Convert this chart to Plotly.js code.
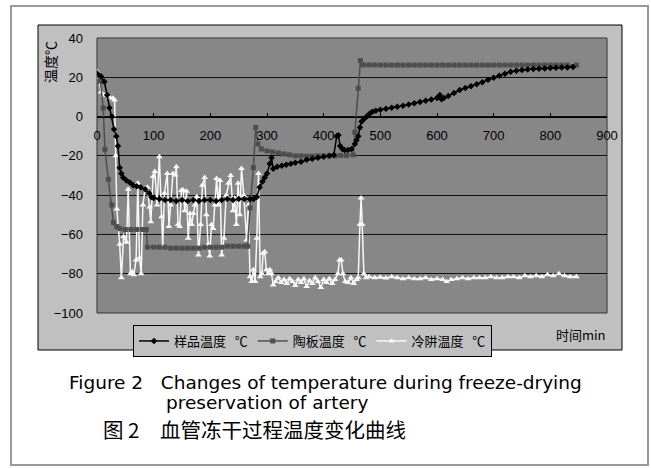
<!DOCTYPE html>
<html>
<head>
<meta charset="utf-8">
<script src="https://cdn.plot.ly/plotly-3.0.1.min.js"></script>
<style>html,body{margin:0;padding:0;background:#fff;}#chart{width:651px;height:468px;}</style>
</head>
<body>
<div id="chart"></div>
<script>
// ---- data ----
const sampleTime = [0,7,13,18,22,26,30,34,37,40,43,46,52,58,64,70,77,85,92,96,100,110,120,130,140,150,160,170,180,190,200,210,220,230,240,250,260,270,276,282,287,292,296,300,305,308,311,318,326,334,342,350,360,370,380,390,400,410,418,423,426,429,433,437,443,449,455,458,461,464,467,472,476,481,486,492,500,510,520,530,540,550,560,570,580,590,600,605,608,612,620,630,640,650,660,670,680,690,700,710,720,730,740,750,760,770,780,790,800,810,820,830,840];
const sampleTemp = [22,20.5,17.7,11,4.5,0,-6.5,-10,-15,-26,-29,-31,-32.5,-33.5,-35,-35.5,-36,-37,-39,-41,-41.5,-42,-42.5,-42.5,-43,-42.5,-43,-42.5,-43,-42.5,-42.5,-43,-42.5,-42,-42.5,-42,-42,-42,-42,-41,-36,-33,-31,-29,-24,-21,-26.5,-25.5,-25,-24.5,-24,-23.5,-23,-22,-21.5,-21,-20.5,-20,-19.5,-10,-9.5,-15,-16.5,-17,-17,-16.5,-14,-12,-10,-5.5,-2.5,-1,0,1.5,2.5,3,3.5,4,4.5,5,5.5,6.2,6.8,7.4,8,8.7,9.5,11,8.8,9.5,10.5,12,13.5,14.5,15.5,16.5,17.5,18.8,19.8,20.8,21.8,22.8,23.3,23.7,24,24.2,24.4,24.5,24.7,24.8,25,25,25.2];

const plateTime = [0,6,11,14,20,26,29,35,40,50,60,70,80,87,89,100,110,120,130,140,150,160,170,180,190,200,210,220,230,240,250,260,266,270,276,280,284,290,300,310,320,330,340,350,360,370,380,390,400,410,420,430,440,452,455,461,465,470,480,490,500,510,520,530,540,550,560,570,580,590,600,610,620,630,640,650,660,670,680,690,700,710,720,730,740,750,760,770,780,790,800,810,820,830,846];
const plateTemp = [21,18,4.3,-16.7,-32,-45,-54,-56,-57,-57.5,-57.5,-57.5,-57.5,-57.5,-66.5,-66.5,-66.5,-66.5,-67,-67,-67,-67,-67,-67,-66.5,-66.5,-66.5,-66.5,-66,-66,-66,-66,-66,-46.5,-26,-5.5,-14,-16.5,-17.5,-18,-18.5,-19,-19.5,-20,-20,-20.2,-20.2,-20,-20,-20,-20,-19.8,-19.8,-19.5,-8,14.4,28.5,26.3,26.3,26.3,26.2,26.2,26.2,26.2,26.2,26.2,26.2,26.2,26.2,26.2,26.2,26.2,26.2,26.2,26.2,26.2,26.2,26.2,26.2,26.2,26.2,26.2,26.2,26.2,26.2,26.2,26.2,26.2,26.2,26.2,26.2,26.2,26.2,26.2,26.2];

const trapTime = [0,3,7,12,16,22,28,31,33,35,40,43,47,52,55,59,62,65,69,72,75,78,81,85,89,93,95,99,102,106,110,114,116,119,124,127,130,134,138,140,143,146,149,152,155,158,161,164,167,170,173,176,179,183,186,190,193,196,199,202,205,208,211,214,217,220,224,228,232,236,240,243,246,249,252,255,259,264,267,270,273,276,279,282,285,288,291,293,296,299,302,305,308,311,315,320,325,330,335,340,345,350,355,360,365,370,375,380,385,390,395,400,405,410,415,420,425,428,431,434,438,443,448,453,458,461,464,466,468,471,475,480,490,500,510,520,530,540,550,560,570,580,590,600,610,617,625,635,645,655,665,675,685,695,705,715,725,735,745,755,765,775,785,795,805,815,825,835,846];
const trapTemp = [23,20,12.5,11,11,10,9.3,8.5,-20,-47,-65,-82,-61,-64,-37,-80,-79,-80.5,-73,-34,-72,-80,-45,-36.5,-36,-46,-53.5,-30.5,-28,-45,-20.4,-51,-66,-39,-29,-56,-45,-29,-29.8,-25.5,-55,-56,-37.5,-37.4,-48,-38,-62,-49.3,-55,-49.3,-45,-40.8,-70.5,-55,-35,-31,-50,-65,-71,-55,-57,-45,-31.5,-45,-32.5,-70.5,-62,-40,-34,-30,-48,-41.6,-55,-34,-50,-26.4,-40,-62.8,-45,-81.5,-84,-78,-84,-62,-29,-81.5,-80,-69.6,-68.8,-78,-80,-78,-80,-85.8,-84,-82,-84.5,-83,-85,-82.5,-84,-86,-83,-84.5,-82.5,-86.5,-83.5,-85,-82,-84,-87,-83,-84.5,-82.5,-85,-83,-80,-73,-73,-80,-84,-84.5,-82,-85,-83,-82,-55,-41.5,-55,-80,-82,-81.5,-82,-81.8,-82.2,-81.5,-82,-82.5,-82,-82.5,-82.5,-82,-83,-82.5,-83,-84,-83,-82.5,-82,-82.5,-82,-82,-82,-81.5,-82,-82,-81.5,-81.5,-82,-81,-81.5,-81,-81.5,-80.5,-81,-80,-81,-81.5,-81.5];

const seriesNames = ['样品温度\u00a0\u00a0\u00a0℃','陶板温度\u00a0\u00a0\u00a0℃','冷阱温度\u00a0\u00a0\u00a0℃'];
const xTicks = [0,100,200,300,400,500,600,700,800,900];
const yTicks = [-100,-80,-60,-40,-20,0,20,40];
const yTitle = '温度℃';
const xTitle = '时间min';
const captionEn1 = 'Figure 2\u00a0\u00a0\u00a0Changes of temperature during freeze-drying';
const captionEn2 = 'preservation of artery';
const captionZh = '图 2\u3000血管冻干过程温度变化曲线';

// ---- layout helpers (pixel -> paper) ----
const L = 97, R = 607, T = 38, B = 313, W = R - L, H = B - T;
const px2x = p => (p - L) / W;
const py2y = p => (B - p) / H;
const yMin = -100, yMax = 40;

const traces = [
  {x: trapTime, y: trapTemp, name: seriesNames[2], legendrank: 3, type: 'scatter', mode: 'lines+markers',
   line: {color: '#f7f7f7', width: 1.5}, marker: {symbol: 'triangle-up', size: 6, color: '#f7f7f7'}},
  {x: plateTime, y: plateTemp, name: seriesNames[1], legendrank: 2, type: 'scatter', mode: 'lines+markers',
   line: {color: '#4e4e4e', width: 1.5}, marker: {symbol: 'square', size: 5, color: '#4e4e4e'}},
  {x: sampleTime, y: sampleTemp, name: seriesNames[0], legendrank: 1, type: 'scatter', mode: 'lines+markers',
   line: {color: '#000', width: 1.5}, marker: {symbol: 'diamond', size: 5, color: '#000'}}
];

const layout = {
  width: 651, height: 468,
  margin: {l: L, r: 651 - R, t: T, b: 468 - B, pad: 0},
  paper_bgcolor: '#ffffff',
  plot_bgcolor: 'rgba(0,0,0,0)',
  showlegend: true,
  font: {family: 'Liberation Sans, Arial, sans-serif', size: 13, color: '#000'},
  xaxis: {
    range: [0, 900], tickvals: xTicks, ticktext: xTicks.map(String),
    anchor: 'free', position: (0 - yMin) / (yMax - yMin), side: 'bottom',
    showgrid: false, zeroline: false, showline: true, linecolor: '#000', linewidth: 1,
    ticks: 'inside', ticklen: 4, tickcolor: '#000', ticklabelstandoff: 7,
    tickfont: {family: 'Liberation Sans, Arial, sans-serif', size: 13, color: '#000'},
    fixedrange: true
  },
  yaxis: {
    range: [yMin, yMax], tickvals: yTicks, ticktext: yTicks.map(v => v < 0 ? '\u2212' + Math.abs(v) : String(v)),
    showgrid: true, gridcolor: '#111', gridwidth: 1.2, zeroline: false,
    showline: false, ticks: '', ticklabelstandoff: 13,
    tickfont: {family: 'Liberation Sans, Arial, sans-serif', size: 13, color: '#000'},
    fixedrange: true
  },
  legend: {
    orientation: 'h', x: px2x(133), y: py2y(325), xanchor: 'left', yanchor: 'top',
    bgcolor: '#c0c0c0', bordercolor: '#000', borderwidth: 1,
    font: {family: 'Noto Sans CJK SC, sans-serif', size: 13, color: '#000'},
    traceorder: 'normal', itemclick: false, itemdoubleclick: false
  },
  shapes: [
    {type: 'rect', xref: 'paper', yref: 'paper', x0: px2x(11), x1: px2x(648), y0: py2y(6), y1: py2y(465),
     line: {color: '#9a9a9a', width: 2}, fillcolor: 'rgba(0,0,0,0)', layer: 'below'},
    {type: 'rect', xref: 'paper', yref: 'paper', x0: px2x(38), x1: px2x(622), y0: py2y(25), y1: py2y(350),
     line: {color: '#000', width: 1}, fillcolor: '#c0c0c0', layer: 'below'},
    {type: 'rect', xref: 'paper', yref: 'paper', x0: 0, x1: 1, y0: 0, y1: 1,
     line: {color: '#333', width: 1}, fillcolor: '#878787', layer: 'below'}
  ],
  annotations: [
    {text: yTitle, xref: 'paper', yref: 'paper', x: px2x(50), y: py2y(62), textangle: -90,
     showarrow: false, xanchor: 'center', yanchor: 'middle',
     font: {family: 'Noto Sans CJK SC, sans-serif', size: 14, color: '#000'}},
    {text: xTitle, xref: 'paper', yref: 'paper', x: px2x(581), y: py2y(334),
     showarrow: false, xanchor: 'center', yanchor: 'middle',
     font: {family: 'Noto Sans CJK SC, sans-serif', size: 13, color: '#000'}},
    {text: captionEn1, xref: 'paper', yref: 'paper', x: px2x(68), y: py2y(382),
     showarrow: false, xanchor: 'left', yanchor: 'middle', borderpad: 0,
     font: {family: 'DejaVu Sans, sans-serif', size: 18.5, color: '#000'}},
    {text: captionEn2, xref: 'paper', yref: 'paper', x: px2x(165), y: py2y(403),
     showarrow: false, xanchor: 'left', yanchor: 'middle', borderpad: 0,
     font: {family: 'DejaVu Sans, sans-serif', size: 18.5, color: '#000'}},
    {text: captionZh, xref: 'paper', yref: 'paper', x: px2x(102), y: py2y(429),
     showarrow: false, xanchor: 'left', yanchor: 'middle', borderpad: 0,
     font: {family: 'Noto Sans CJK SC, sans-serif', size: 20.5, color: '#000'}}
  ]
};

Plotly.newPlot('chart', traces, layout, {staticPlot: true, displayModeBar: false});
</script>
</body>
</html>
